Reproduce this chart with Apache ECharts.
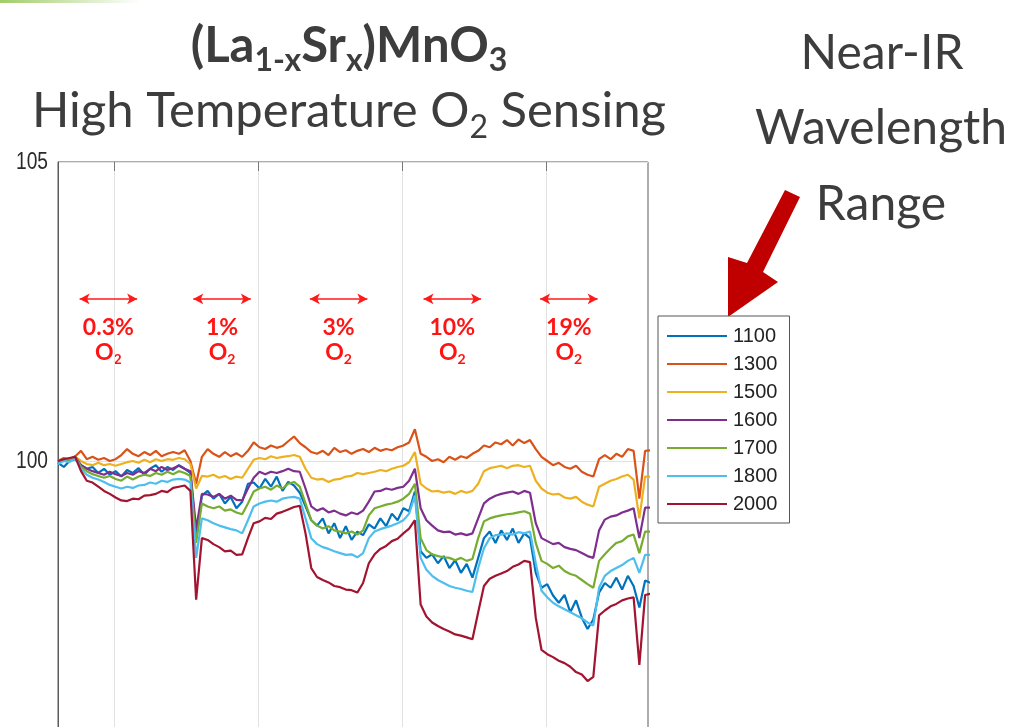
<!DOCTYPE html>
<html>
<head>
<meta charset="utf-8">
<script src="https://cdn.jsdelivr.net/npm/echarts@6/dist/echarts.min.js"></script>
<style>
  html, body { margin: 0; padding: 0; background: #ffffff; }
  #chart { width: 1015px; height: 727px; }
</style>
</head>
<body>
<div id="chart"></div>
<script>
// Sampling times (minutes), one reading every 4 min
const minutes = Array.from({ length: 104 }, (_, i) => i * 4);
// Positions of the vertical grid lines (minutes)
const gridMinutes = [39, 139, 239, 339];

const wavelengths = ['1100', '1300', '1500', '1600', '1700', '1800', '2000'];
const lineColors = ['#0072BD', '#D95319', '#EDB120', '#7E2F8E', '#77AC30', '#4DBEEE', '#A2142F'];

// Normalised transmittance (%) at each wavelength (nm)
const wl1100 = [99.97, 99.90, 100.00, 100.03, 99.93, 99.87, 99.90, 99.80, 99.87, 99.77,
  99.83, 99.74, 99.85, 99.80, 99.88, 99.77, 99.87, 99.93, 99.82, 99.90,
  99.85, 99.93, 99.87, 99.80, 98.71, 99.42, 99.50, 99.37, 99.45, 99.29,
  99.40, 99.21, 99.32, 99.62, 99.64, 99.54, 99.70, 99.57, 99.74, 99.50,
  99.65, 99.59, 99.47, 99.24, 99.01, 98.92, 99.04, 98.79, 98.96, 98.71,
  98.91, 98.68, 98.82, 98.76, 98.94, 98.87, 99.04, 98.91, 99.12, 99.01,
  99.21, 99.16, 99.49, 98.49, 98.38, 98.44, 98.29, 98.41, 98.21, 98.34,
  98.13, 98.28, 98.05, 98.38, 98.71, 98.82, 98.63, 98.84, 98.68, 98.87,
  98.63, 98.79, 98.71, 98.13, 97.88, 97.94, 97.75, 97.63, 97.76, 97.47,
  97.67, 97.38, 97.19, 97.35, 97.80, 97.96, 97.88, 98.05, 97.85, 98.08,
  97.91, 97.55, 98.00, 97.96];
const wl1300 = [100.00, 100.05, 100.03, 100.08, 100.17, 100.03, 100.07, 100.02, 100.05, 100.00,
  100.03, 100.10, 100.20, 100.12, 100.08, 100.15, 100.10, 100.17, 100.08, 100.12,
  100.15, 100.12, 100.18, 100.00, 99.62, 100.07, 100.20, 100.12, 100.07, 100.15,
  100.08, 100.13, 100.07, 100.17, 100.31, 100.23, 100.20, 100.26, 100.22, 100.25,
  100.33, 100.41, 100.30, 100.23, 100.15, 100.12, 100.17, 100.10, 100.22, 100.15,
  100.18, 100.12, 100.17, 100.20, 100.15, 100.22, 100.17, 100.20, 100.18, 100.23,
  100.26, 100.31, 100.53, 100.12, 100.07, 100.00, 100.03, 99.98, 100.07, 100.02,
  100.08, 100.05, 100.12, 100.17, 100.26, 100.23, 100.31, 100.28, 100.35, 100.26,
  100.36, 100.30, 100.35, 100.20, 100.07, 100.00, 99.93, 99.97, 99.90, 99.87,
  99.92, 99.82, 99.77, 99.74, 100.03, 100.10, 100.03, 100.12, 100.07, 100.20,
  100.17, 99.37, 100.17, 100.18];
const wl1500 = [100.00, 100.02, 100.03, 100.07, 100.00, 99.95, 99.93, 99.97, 99.93, 99.95,
  99.92, 99.95, 99.98, 100.00, 99.97, 100.02, 99.98, 100.03, 100.00, 100.03,
  100.02, 100.05, 100.03, 99.95, 99.54, 99.75, 99.74, 99.77, 99.72, 99.75,
  99.70, 99.74, 99.72, 99.87, 100.02, 100.05, 100.03, 100.08, 100.05, 100.07,
  100.08, 100.10, 100.07, 99.87, 99.72, 99.69, 99.70, 99.65, 99.69, 99.70,
  99.74, 99.75, 99.80, 99.78, 99.80, 99.82, 99.85, 99.83, 99.87, 99.90,
  99.92, 99.98, 100.15, 99.62, 99.54, 99.49, 99.50, 99.47, 99.49, 99.45,
  99.50, 99.47, 99.50, 99.62, 99.83, 99.88, 99.90, 99.92, 99.88, 99.92,
  99.93, 99.90, 99.92, 99.67, 99.54, 99.47, 99.44, 99.45, 99.39, 99.37,
  99.40, 99.32, 99.27, 99.24, 99.57, 99.62, 99.67, 99.70, 99.74, 99.77,
  99.69, 99.04, 99.74, 99.74];
const wl1600 = [100.00, 100.03, 100.02, 100.07, 99.93, 99.87, 99.83, 99.80, 99.77, 99.82,
  99.78, 99.75, 99.80, 99.77, 99.83, 99.80, 99.87, 99.83, 99.90, 99.85,
  99.88, 99.92, 99.87, 99.83, 98.87, 99.45, 99.44, 99.40, 99.45, 99.37,
  99.42, 99.35, 99.34, 99.54, 99.72, 99.82, 99.78, 99.82, 99.80, 99.83,
  99.87, 99.83, 99.82, 99.54, 99.24, 99.17, 99.21, 99.14, 99.17, 99.12,
  99.09, 99.14, 99.11, 99.17, 99.32, 99.49, 99.50, 99.54, 99.52, 99.55,
  99.57, 99.67, 99.87, 99.21, 99.01, 98.92, 98.84, 98.81, 98.82, 98.77,
  98.79, 98.76, 98.79, 99.04, 99.29, 99.37, 99.42, 99.45, 99.47, 99.49,
  99.45, 99.50, 99.47, 98.96, 98.71, 98.66, 98.61, 98.63, 98.56, 98.53,
  98.51, 98.46, 98.41, 98.38, 98.84, 99.02, 99.07, 99.09, 99.14, 99.17,
  99.21, 98.71, 99.22, 99.22];
const wl1700 = [100.00, 100.03, 100.02, 100.07, 99.90, 99.83, 99.78, 99.75, 99.72, 99.75,
  99.70, 99.67, 99.74, 99.69, 99.74, 99.77, 99.75, 99.80, 99.77, 99.82,
  99.78, 99.83, 99.80, 99.75, 98.63, 99.29, 99.24, 99.21, 99.24, 99.17,
  99.19, 99.14, 99.11, 99.29, 99.49, 99.54, 99.57, 99.52, 99.59, 99.54,
  99.62, 99.65, 99.57, 99.29, 99.01, 98.92, 98.87, 98.91, 98.84, 98.82,
  98.79, 98.82, 98.77, 98.84, 99.09, 99.21, 99.24, 99.27, 99.29, 99.32,
  99.37, 99.45, 99.62, 98.71, 98.51, 98.44, 98.41, 98.39, 98.38, 98.34,
  98.38, 98.33, 98.36, 98.71, 98.99, 99.04, 99.07, 99.09, 99.11, 99.12,
  99.14, 99.16, 99.12, 98.63, 98.33, 98.28, 98.21, 98.25, 98.16, 98.11,
  98.08, 98.01, 97.94, 97.88, 98.33, 98.44, 98.54, 98.63, 98.66, 98.74,
  98.77, 98.46, 98.82, 98.82];
const wl1800 = [99.95, 100.00, 99.98, 100.05, 99.87, 99.77, 99.72, 99.69, 99.65, 99.60,
  99.57, 99.54, 99.57, 99.55, 99.59, 99.60, 99.64, 99.62, 99.67, 99.65,
  99.69, 99.70, 99.69, 99.64, 98.38, 99.04, 99.01, 98.96, 98.92, 98.89,
  98.86, 98.84, 98.79, 99.01, 99.24, 99.29, 99.32, 99.34, 99.32, 99.37,
  99.39, 99.40, 99.37, 99.04, 98.71, 98.61, 98.56, 98.53, 98.49, 98.46,
  98.43, 98.44, 98.39, 98.46, 98.71, 98.82, 98.86, 98.89, 98.92, 98.96,
  99.01, 99.12, 99.42, 98.38, 98.18, 98.08, 98.01, 97.96, 97.91, 97.88,
  97.86, 97.83, 97.81, 98.21, 98.54, 98.71, 98.76, 98.77, 98.79, 98.77,
  98.81, 98.79, 98.82, 98.29, 97.83, 97.72, 97.63, 97.57, 97.52, 97.47,
  97.42, 97.37, 97.30, 97.25, 97.88, 98.08, 98.16, 98.21, 98.26, 98.33,
  98.38, 98.13, 98.43, 98.43];
const wl2000 = [100.00, 100.03, 100.05, 100.07, 99.83, 99.67, 99.64, 99.57, 99.50, 99.45,
  99.39, 99.34, 99.33, 99.37, 99.36, 99.42, 99.43, 99.45, 99.50, 99.48,
  99.55, 99.57, 99.59, 99.50, 97.68, 98.71, 98.68, 98.61, 98.56, 98.49,
  98.50, 98.43, 98.44, 98.71, 98.96, 98.99, 99.05, 99.03, 99.12, 99.15,
  99.19, 99.23, 99.25, 98.79, 98.21, 98.06, 98.01, 97.97, 97.91, 97.89,
  97.85, 97.84, 97.80, 97.96, 98.29, 98.44, 98.53, 98.58, 98.66, 98.70,
  98.79, 98.87, 99.01, 97.60, 97.40, 97.30, 97.24, 97.19, 97.15, 97.10,
  97.08, 97.05, 97.02, 97.47, 97.91, 98.03, 98.08, 98.12, 98.16, 98.23,
  98.27, 98.33, 98.31, 97.38, 96.84, 96.77, 96.72, 96.66, 96.62, 96.56,
  96.47, 96.43, 96.32, 96.39, 97.42, 97.50, 97.57, 97.61, 97.67, 97.70,
  97.72, 96.59, 97.76, 97.78];

const seriesValues = [wl1100, wl1300, wl1500, wl1600, wl1700, wl1800, wl2000];

// O2 exposure windows: label, start and end time (minutes), arrow level (%)
const o2Labels = ['0.3%', '1%', '3%', '10%', '19%'];
const o2Starts = [15, 94, 175, 254, 335];
const o2Ends = [55, 134, 215, 294, 375];
const o2ArrowLevel = 102.71;

// Vertical axis range and its labelled ticks
const yMin = 95, yMax = 105, yStep = 5;
const yTickLabels = [95, 100, 105];

const chart = echarts.init(document.getElementById('chart'), null, { renderer: 'canvas' });

const titleFont = 'Lato, "Open Sans", sans-serif';
const titleColor = '#3d3d3d';
const axisFont = '"Liberation Sans", Arial, sans-serif';

const series = wavelengths.map((wl, k) => ({
  name: wl,
  type: 'line',
  xAxisIndex: 0,
  yAxisIndex: 0,
  symbol: 'none',
  z: 3,
  lineStyle: { width: 2.2, color: lineColors[k] },
  itemStyle: { color: lineColors[k] },
  data: minutes.map((t, i) => [t, seriesValues[k][i]])
}));

// Double-headed arrows marking each O2 window
series[0].markLine = {
  silent: true,
  symbol: ['arrow', 'arrow'],
  symbolSize: [8, 10],
  label: { show: false },
  lineStyle: { color: '#ff1a1a', width: 1.5, type: 'solid' },
  emphasis: { disabled: true },
  data: o2Starts.map((s, i) => [
    { coord: [s, o2ArrowLevel] },
    { coord: [o2Ends[i], o2ArrowLevel] }
  ])
};

const headerGraphics = [
  { // accent line in the corner
    type: 'rect', left: 0, top: 0, silent: true,
    shape: { width: 140, height: 3 },
    style: { fill: new echarts.graphic.LinearGradient(0, 0, 1, 0, [
      { offset: 0, color: 'rgba(150,200,90,0.9)' },
      { offset: 1, color: 'rgba(150,200,90,0)' }
    ]) }
  },
  {
    type: 'text', x: 349, y: 46, silent: true,
    style: {
      text: '{m|(La}{s|1-x}{m|Sr}{s|x}{m|)MnO}{s|3}',
      align: 'center', verticalAlign: 'middle',
      rich: {
        m: { fontFamily: titleFont, fontWeight: 'bold', fontSize: 49, lineHeight: 49, fill: titleColor },
        s: { fontFamily: titleFont, fontWeight: 'bold', fontSize: 32, lineHeight: 32, fill: titleColor, padding: [30, 0, 0, 0] }
      }
    }
  },
  {
    type: 'text', x: 349, y: 111, silent: true,
    style: {
      text: '{m|High Temperature O}{s|2}{m| Sensing}',
      align: 'center', verticalAlign: 'middle',
      rich: {
        m: { fontFamily: titleFont, fontSize: 49, lineHeight: 49, fill: titleColor },
        s: { fontFamily: titleFont, fontSize: 32, lineHeight: 32, fill: titleColor, padding: [34, 0, 0, 0] }
      }
    }
  },
  {
    type: 'text', x: 882, y: 54, silent: true,
    style: { text: 'Near-IR', align: 'center', verticalAlign: 'middle', font: '48px ' + titleFont, fill: titleColor }
  },
  {
    type: 'text', x: 881, y: 129, silent: true,
    style: { text: 'Wavelength', align: 'center', verticalAlign: 'middle', font: '48px ' + titleFont, fill: titleColor }
  },
  {
    type: 'text', x: 881, y: 205, silent: true,
    style: { text: 'Range', align: 'center', verticalAlign: 'middle', font: '48px ' + titleFont, fill: titleColor }
  },
  { // red pointer towards the legend
    type: 'polygon', silent: true,
    shape: { points: [[785, 190], [800, 197], [763, 272], [778, 282], [728, 317], [728, 257], [747, 263]] },
    style: { fill: '#C00000' }
  }
];

chart.setOption({
  animation: false,
  backgroundColor: '#ffffff',
  grid: {
    left: 58, top: 162, width: 590, height: 598,
    outerBoundsMode: 'none',
    show: true, borderColor: '#5a5a5a', borderWidth: 1, backgroundColor: '#ffffff'
  },
  legend: {
    data: wavelengths,
    orient: 'vertical',
    left: 658, top: 316,
    icon: 'rect',
    itemWidth: 60, itemHeight: 2, itemGap: 8.0,
    padding: [10, 12, 9, 9],
    backgroundColor: '#ffffff',
    borderColor: '#555555', borderWidth: 1,
    selectedMode: false,
    textStyle: { fontFamily: axisFont, fontSize: 20, color: '#222222', padding: [0, 0, 0, 1] }
  },
  xAxis: [
    {
      type: 'value', min: 0, max: 410, position: 'bottom',
      axisLine: { show: false }, axisLabel: { show: false },
      axisTick: { show: false, customValues: gridMinutes },
      splitLine: { show: true, lineStyle: { color: '#e2e2e2', width: 1 } }
    },
    {
      type: 'value', min: 0, max: 410, position: 'top',
      axisLine: { show: false }, axisLabel: { show: false },
      axisTick: { show: true, inside: true, length: 9, customValues: gridMinutes, lineStyle: { color: '#777777' } },
      splitLine: { show: false }
    }
  ],
  yAxis: {
    type: 'value', min: yMin, max: yMax, interval: yStep,
    axisLine: { show: true, lineStyle: { color: '#5a5a5a', width: 1 } },
    axisTick: { show: false },
    axisLabel: { show: false },
    splitLine: { show: true, lineStyle: { color: '#e2e2e2', width: 1 } }
  },
  series: series,
  graphic: headerGraphics
});

// Condensed tick labels for the vertical axis, placed at their tick values
const yLabelGraphics = yTickLabels.map(v => {
  const p = chart.convertToPixel({ gridIndex: 0 }, [0, v]);
  return {
    type: 'text', x: p[0] - 10, y: p[1], silent: true,
    scaleX: 0.8, originX: 0, originY: 0,
    style: { text: String(v), align: 'right', verticalAlign: 'middle', fontSize: 24, fontFamily: axisFont, fill: '#2a2a2a' }
  };
});

// O2 concentration labels under each arrow
const o2LabelGraphics = o2Labels.map((lab, i) => {
  const p = chart.convertToPixel({ gridIndex: 0 }, [(o2Starts[i] + o2Ends[i]) / 2, o2ArrowLevel]);
  return {
    type: 'text', x: p[0], y: p[1] + 16, silent: true,
    style: {
      text: '{p|' + lab + '}\n{p|O}{s|2}',
      align: 'center', verticalAlign: 'top',
      rich: {
        p: { fontFamily: titleFont, fontWeight: 'bold', fontSize: 23, lineHeight: 25, fill: '#ff1414', align: 'center' },
        s: { fontFamily: titleFont, fontWeight: 'bold', fontSize: 14, lineHeight: 14, fill: '#ff1414', padding: [14, 0, 0, 0] }
      }
    }
  };
});
chart.setOption({ graphic: headerGraphics.concat(yLabelGraphics, o2LabelGraphics) });
</script>
</body>
</html>
